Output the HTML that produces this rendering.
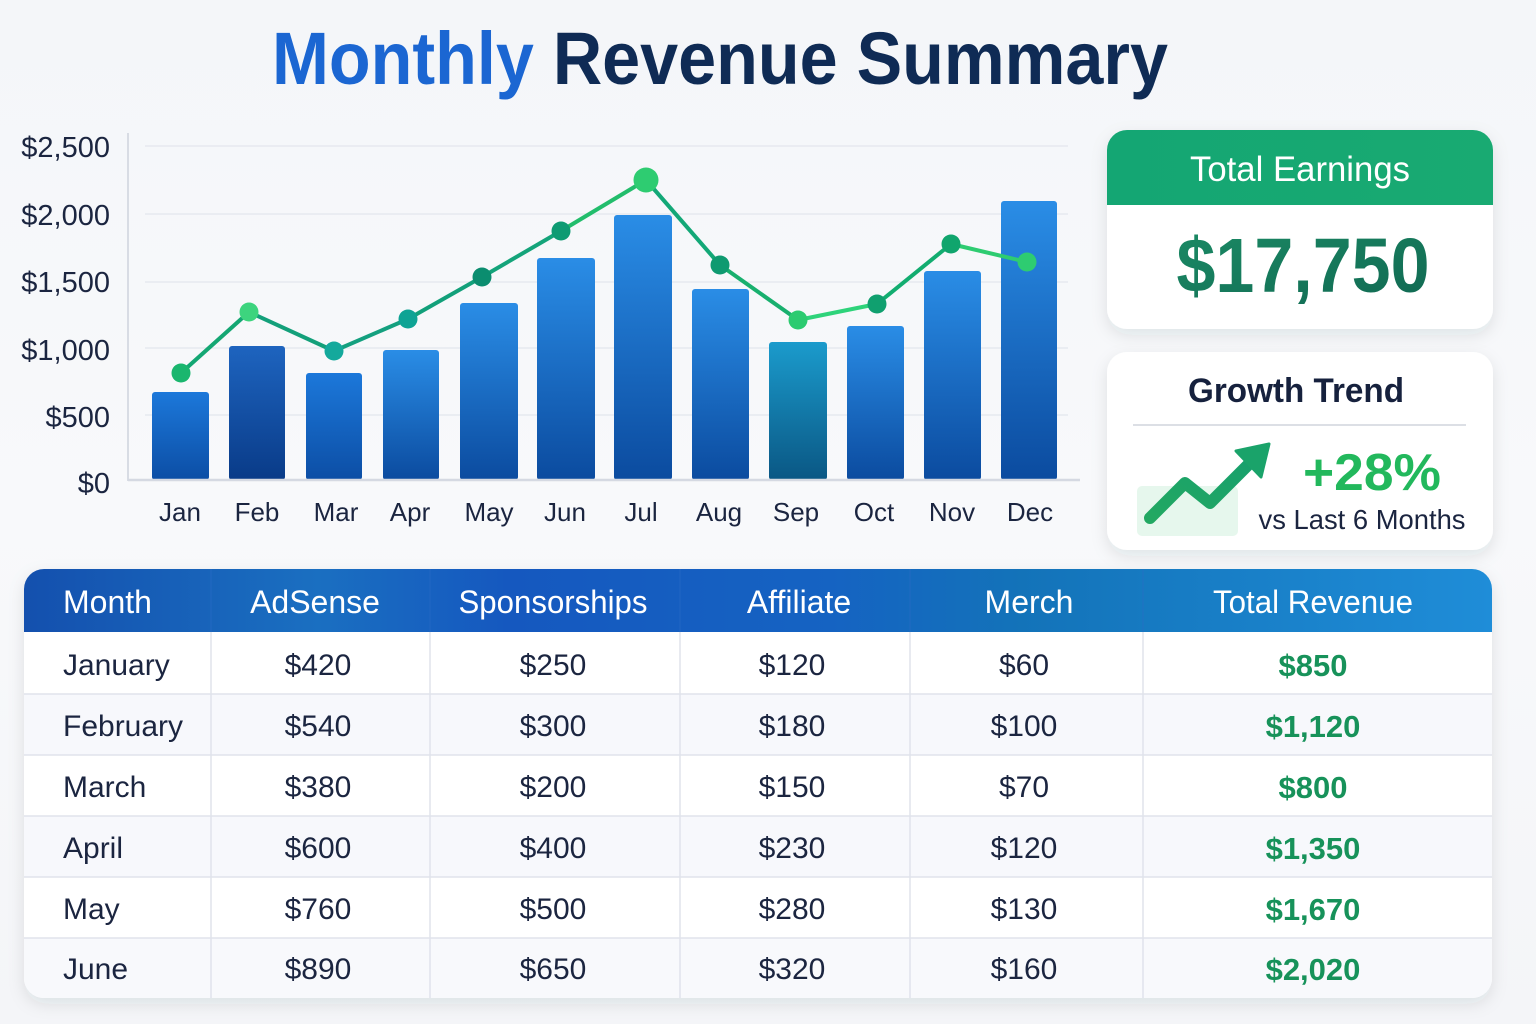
<!DOCTYPE html>
<html>
<head>
<meta charset="utf-8">
<style>
html,body{margin:0;padding:0;background:#f6f7fa;}
svg{display:block;}
text{font-family:"Liberation Sans",sans-serif;}
</style>
</head>
<body>
<svg width="1536" height="1024" viewBox="0 0 1536 1024" xmlns="http://www.w3.org/2000/svg">
<defs>
  <linearGradient id="bg" x1="0" y1="0" x2="0" y2="1">
    <stop offset="0" stop-color="#f4f6f9"/>
    <stop offset="0.5" stop-color="#f8f9fb"/>
    <stop offset="1" stop-color="#f4f5f8"/>
  </linearGradient>
  <linearGradient id="barB" x1="0" y1="0" x2="0" y2="1">
    <stop offset="0" stop-color="#2a8de6"/>
    <stop offset="1" stop-color="#0b4b9f"/>
  </linearGradient>
  <linearGradient id="barJ" x1="0" y1="0" x2="0" y2="1">
    <stop offset="0" stop-color="#1c78da"/>
    <stop offset="1" stop-color="#0c4ea5"/>
  </linearGradient>
  <linearGradient id="barF" x1="0" y1="0" x2="0" y2="1">
    <stop offset="0" stop-color="#1e64bf"/>
    <stop offset="1" stop-color="#093b88"/>
  </linearGradient>
  <linearGradient id="barS" x1="0" y1="0" x2="0" y2="1">
    <stop offset="0" stop-color="#1b9bcc"/>
    <stop offset="1" stop-color="#0a5784"/>
  </linearGradient>
  <linearGradient id="hdr" x1="0" y1="0" x2="1" y2="0">
    <stop offset="0" stop-color="#1450ae"/>
    <stop offset="0.2" stop-color="#1a6fc1"/>
    <stop offset="0.33" stop-color="#1558bf"/>
    <stop offset="0.55" stop-color="#1563c2"/>
    <stop offset="0.68" stop-color="#1373b9"/>
    <stop offset="1" stop-color="#1f8dd8"/>
  </linearGradient>
  <linearGradient id="grn" x1="0" y1="0" x2="1" y2="0">
    <stop offset="0" stop-color="#14a673"/>
    <stop offset="1" stop-color="#19aa72"/>
  </linearGradient>
  <linearGradient id="big" x1="0" y1="0" x2="1" y2="1">
    <stop offset="0" stop-color="#1b8b65"/>
    <stop offset="1" stop-color="#116852"/>
  </linearGradient>
  <linearGradient id="arr" x1="0" y1="1" x2="1" y2="0">
    <stop offset="0" stop-color="#22a862"/>
    <stop offset="1" stop-color="#18a06c"/>
  </linearGradient>
  <filter id="sh" x="-10%" y="-10%" width="120%" height="130%">
    <feDropShadow dx="0" dy="6" stdDeviation="8" flood-color="#1a2540" flood-opacity="0.10"/>
  </filter>
  <clipPath id="tclip">
    <rect x="24" y="569" width="1468" height="429" rx="20" ry="20"/>
  </clipPath>
</defs>

<!-- background -->
<rect x="0" y="0" width="1536" height="1024" fill="url(#bg)"/>

<!-- title -->
<text x="272" y="84" font-size="74" font-weight="bold" textLength="896" lengthAdjust="spacingAndGlyphs"><tspan fill="#1b66d2">Monthly</tspan><tspan fill="#0f2b55"> Revenue Summary</tspan></text>

<!-- gridlines -->
<g stroke="#e6e9ef" stroke-width="1.5">
  <line x1="145" y1="146" x2="1068" y2="146"/>
  <line x1="145" y1="214" x2="1068" y2="214"/>
  <line x1="145" y1="282" x2="1068" y2="282"/>
  <line x1="145" y1="348" x2="1068" y2="348"/>
  <line x1="145" y1="415" x2="1068" y2="415"/>
</g>
<line x1="128" y1="133" x2="128" y2="481" stroke="#d8dce4" stroke-width="2"/>

<!-- y labels -->
<g font-size="29" fill="#1b2540" text-anchor="end">
  <text x="110" y="157">$2,500</text>
  <text x="110" y="225">$2,000</text>
  <text x="110" y="292">$1,500</text>
  <text x="110" y="360">$1,000</text>
  <text x="110" y="427">$500</text>
  <text x="110" y="493">$0</text>
</g>

<!-- bars -->
<rect x="152" y="392" width="57" height="88" rx="3" fill="url(#barJ)"/>
<rect x="229" y="346" width="56" height="134" rx="3" fill="url(#barF)"/>
<rect x="306" y="373" width="56" height="107" rx="3" fill="url(#barJ)"/>
<rect x="383" y="350" width="56" height="130" rx="3" fill="url(#barB)"/>
<rect x="460" y="303" width="58" height="177" rx="3" fill="url(#barB)"/>
<rect x="537" y="258" width="58" height="222" rx="3" fill="url(#barB)"/>
<rect x="614" y="215" width="58" height="265" rx="3" fill="url(#barB)"/>
<rect x="692" y="289" width="57" height="191" rx="3" fill="url(#barB)"/>
<rect x="769" y="342" width="58" height="138" rx="3" fill="url(#barS)"/>
<rect x="847" y="326" width="57" height="154" rx="3" fill="url(#barB)"/>
<rect x="924" y="271" width="57" height="209" rx="3" fill="url(#barB)"/>
<rect x="1001" y="201" width="56" height="279" rx="3" fill="url(#barB)"/>

<line x1="128" y1="480" x2="1080" y2="480" stroke="#d5d9e2" stroke-width="2.5"/>

<!-- line -->
<g stroke-width="4" stroke-linecap="round" fill="none">
  <line x1="181" y1="373" x2="249" y2="312" stroke="#14a773"/>
  <line x1="249" y1="312" x2="334" y2="351" stroke="#13a07a"/>
  <line x1="334" y1="351" x2="408" y2="319" stroke="#14a07f"/>
  <line x1="408" y1="319" x2="482" y2="277" stroke="#12a07a"/>
  <line x1="482" y1="277" x2="561" y2="231" stroke="#14a47a"/>
  <line x1="561" y1="231" x2="646" y2="180" stroke="#22bd6c"/>
  <line x1="646" y1="180" x2="720" y2="265" stroke="#13a877"/>
  <line x1="720" y1="265" x2="798" y2="320" stroke="#18b06e"/>
  <line x1="798" y1="320" x2="877" y2="304" stroke="#2ed37a"/>
  <line x1="877" y1="304" x2="951" y2="244" stroke="#12ad70"/>
  <line x1="951" y1="244" x2="1027" y2="262" stroke="#2ecc71"/>
</g>
<g>
  <circle cx="181" cy="373" r="9.5" fill="#1ab66e"/>
  <circle cx="249" cy="312" r="9.5" fill="#3dd47e"/>
  <circle cx="334" cy="351" r="9.5" fill="#14a99c"/>
  <circle cx="408" cy="319" r="9.5" fill="#0ea394"/>
  <circle cx="482" cy="277" r="9.5" fill="#0b8d6f"/>
  <circle cx="561" cy="231" r="9.5" fill="#0e9b73"/>
  <circle cx="646" cy="180" r="12.5" fill="#2ecc71"/>
  <circle cx="720" cy="265" r="9.5" fill="#0e9a70"/>
  <circle cx="798" cy="320" r="9.5" fill="#2ccb70"/>
  <circle cx="877" cy="304" r="9.5" fill="#10a06f"/>
  <circle cx="951" cy="244" r="9.5" fill="#10a56d"/>
  <circle cx="1027" cy="262" r="9.5" fill="#2ecc71"/>
</g>

<!-- x labels -->
<g font-size="26" fill="#1b2540" text-anchor="middle">
  <text x="180" y="521">Jan</text>
  <text x="257" y="521">Feb</text>
  <text x="336" y="521">Mar</text>
  <text x="410" y="521">Apr</text>
  <text x="489" y="521">May</text>
  <text x="565" y="521">Jun</text>
  <text x="641" y="521">Jul</text>
  <text x="719" y="521">Aug</text>
  <text x="796" y="521">Sep</text>
  <text x="874" y="521">Oct</text>
  <text x="952" y="521">Nov</text>
  <text x="1030" y="521">Dec</text>
</g>

<!-- Total Earnings card -->
<g filter="url(#sh)">
  <rect x="1107" y="130" width="386" height="199" rx="20" fill="#ffffff"/>
</g>
<path d="M1107 205 V150 a20 20 0 0 1 20 -20 H1473 a20 20 0 0 1 20 20 V205 Z" fill="url(#grn)"/>
<text x="1300" y="181" font-size="35" fill="#ffffff" text-anchor="middle" textLength="220" lengthAdjust="spacingAndGlyphs">Total Earnings</text>
<text x="1303" y="292" font-size="77" font-weight="bold" fill="url(#big)" text-anchor="middle" textLength="253" lengthAdjust="spacingAndGlyphs">$17,750</text>

<!-- Growth card -->
<g filter="url(#sh)">
  <rect x="1107" y="352" width="386" height="198" rx="20" fill="#ffffff"/>
</g>
<text x="1296" y="402" font-size="34" font-weight="bold" fill="#16213d" text-anchor="middle" textLength="216" lengthAdjust="spacingAndGlyphs">Growth Trend</text>
<line x1="1133" y1="425" x2="1466" y2="425" stroke="#dcdfe5" stroke-width="2"/>
<rect x="1137" y="486" width="101" height="50" rx="5" fill="#e6f7ed"/>
<polyline points="1150,518 1185,483 1210,503 1250,463" fill="none" stroke="url(#arr)" stroke-width="12" stroke-linecap="round" stroke-linejoin="round"/>
<polygon points="1269,444 1236,451 1261,477" fill="#1aa36a" stroke="#1aa36a" stroke-width="3" stroke-linejoin="round"/>
<text x="1372" y="490" font-size="52" font-weight="bold" fill="#22b85c" text-anchor="middle" textLength="138" lengthAdjust="spacingAndGlyphs">+28%</text>
<text x="1362" y="529" font-size="28" fill="#1b2540" text-anchor="middle" textLength="207" lengthAdjust="spacingAndGlyphs">vs Last 6 Months</text>

<!-- Table -->
<g filter="url(#sh)">
  <rect x="24" y="569" width="1468" height="429" rx="20" fill="#ffffff"/>
</g>
<g clip-path="url(#tclip)">
  <rect x="24" y="569" width="1468" height="63" fill="url(#hdr)"/>
  <rect x="24" y="632" width="1468" height="62" fill="#ffffff"/>
  <rect x="24" y="694" width="1468" height="61" fill="#f7f8fc"/>
  <rect x="24" y="755" width="1468" height="61" fill="#ffffff"/>
  <rect x="24" y="816" width="1468" height="61" fill="#f7f8fc"/>
  <rect x="24" y="877" width="1468" height="61" fill="#ffffff"/>
  <rect x="24" y="938" width="1468" height="60" fill="#f8f9fc"/>
  <g stroke="#e0e3eb" stroke-width="1.5">
    <line x1="24" y1="694" x2="1492" y2="694"/>
    <line x1="24" y1="755" x2="1492" y2="755"/>
    <line x1="24" y1="816" x2="1492" y2="816"/>
    <line x1="24" y1="877" x2="1492" y2="877"/>
    <line x1="24" y1="938" x2="1492" y2="938"/>
    <line x1="211" y1="632" x2="211" y2="998"/>
    <line x1="430" y1="632" x2="430" y2="998"/>
    <line x1="680" y1="632" x2="680" y2="998"/>
    <line x1="910" y1="632" x2="910" y2="998"/>
    <line x1="1143" y1="632" x2="1143" y2="998"/>
  </g>
  <g stroke="#2a6cc6" stroke-width="1" opacity="0.6">
    <line x1="211" y1="569" x2="211" y2="632"/>
    <line x1="430" y1="569" x2="430" y2="632"/>
    <line x1="680" y1="569" x2="680" y2="632"/>
    <line x1="910" y1="569" x2="910" y2="632"/>
    <line x1="1143" y1="569" x2="1143" y2="632"/>
  </g>
</g>

<g font-size="32" fill="#ffffff">
  <text x="63" y="613">Month</text>
  <text x="315" y="613" text-anchor="middle">AdSense</text>
  <text x="553" y="613" text-anchor="middle" textLength="189" lengthAdjust="spacingAndGlyphs">Sponsorships</text>
  <text x="799" y="613" text-anchor="middle">Affiliate</text>
  <text x="1029" y="613" text-anchor="middle">Merch</text>
  <text x="1313" y="613" text-anchor="middle" textLength="200" lengthAdjust="spacingAndGlyphs">Total Revenue</text>
</g>

<g font-size="30" fill="#1b2540">
  <text x="63" y="675">January</text>
  <text x="63" y="736">February</text>
  <text x="63" y="797">March</text>
  <text x="63" y="858">April</text>
  <text x="63" y="919">May</text>
  <text x="63" y="979">June</text>
</g>
<g font-size="30" fill="#1b2540" text-anchor="middle">
  <text x="318" y="675">$420</text>
  <text x="318" y="736">$540</text>
  <text x="318" y="797">$380</text>
  <text x="318" y="858">$600</text>
  <text x="318" y="919">$760</text>
  <text x="318" y="979">$890</text>

  <text x="553" y="675">$250</text>
  <text x="553" y="736">$300</text>
  <text x="553" y="797">$200</text>
  <text x="553" y="858">$400</text>
  <text x="553" y="919">$500</text>
  <text x="553" y="979">$650</text>

  <text x="792" y="675">$120</text>
  <text x="792" y="736">$180</text>
  <text x="792" y="797">$150</text>
  <text x="792" y="858">$230</text>
  <text x="792" y="919">$280</text>
  <text x="792" y="979">$320</text>

  <text x="1024" y="675">$60</text>
  <text x="1024" y="736">$100</text>
  <text x="1024" y="797">$70</text>
  <text x="1024" y="858">$120</text>
  <text x="1024" y="919">$130</text>
  <text x="1024" y="979">$160</text>
</g>
<g font-size="31" font-weight="bold" fill="#17925a" text-anchor="middle">
  <text x="1313" y="676">$850</text>
  <text x="1313" y="737">$1,120</text>
  <text x="1313" y="798">$800</text>
  <text x="1313" y="859">$1,350</text>
  <text x="1313" y="920">$1,670</text>
  <text x="1313" y="980">$2,020</text>
</g>
</svg>
</body>
</html>
